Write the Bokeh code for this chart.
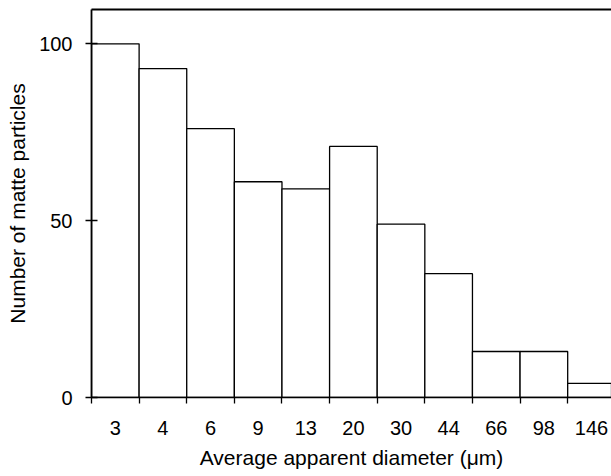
from bokeh.plotting import figure
from bokeh.models import Range1d, LinearAxis, FixedTicker
from bokeh.embed import file_html
from bokeh.resources import INLINE

categories = ["3", "4", "6", "9", "13", "20", "30", "44", "66", "98", "146"]
counts = [100, 93, 76, 61, 59, 71, 49, 35, 13, 13, 4]
y_ticks = [0, 50, 100]

n = len(categories)
centers = [i + 0.5 for i in range(n)]
edges = list(range(n + 1))

FONT = "Liberation Sans"
FS_TICK = "20px"
FS_TITLE = "21px"

p = figure(width=611, height=476, output_backend="svg", toolbar_location=None,
           x_range=Range1d(0, 10.92), y_range=Range1d(0, 109.7),
           x_axis_type=None, y_axis_type=None,
           min_border_left=91, min_border_right=0, min_border_top=9, min_border_bottom=79)
p.outline_line_color = None
p.grid.visible = False
p.background_fill_color = "white"
p.border_fill_color = "white"

p.vbar(x=centers, top=counts, bottom=0, width=1.0, fill_color="white",
       line_color="black", line_width=1.3)

# bottom axis: labels at centers, ticks (minor) at bin edges
xa = LinearAxis(ticker=FixedTicker(ticks=centers, minor_ticks=edges),
                major_label_overrides={c: lab for c, lab in zip(centers, categories)})
xa.axis_label = "Average apparent diameter (\u03bcm)"
xa.major_tick_out = 0
xa.major_tick_in = 0
xa.minor_tick_out = 6
xa.minor_tick_in = 0
xa.minor_tick_line_color = "black"
xa.minor_tick_line_width = 1.3
xa.axis_line_width = 1.5
xa.axis_line_color = "black"
xa.major_label_standoff = 17
xa.axis_label_standoff = 8
xa.major_label_text_font = FONT
xa.major_label_text_font_size = FS_TICK
xa.major_label_text_color = "black"
xa.axis_label_text_font = FONT
xa.axis_label_text_font_size = FS_TITLE
xa.axis_label_text_font_style = "normal"
xa.axis_label_text_color = "black"
p.add_layout(xa, "below")

ya = LinearAxis(ticker=FixedTicker(ticks=y_ticks, minor_ticks=[]))
ya.axis_label = "Number of matte particles"
ya.major_tick_out = 6
ya.major_tick_in = 6
ya.major_tick_line_color = "black"
ya.major_tick_line_width = 1.3
ya.axis_line_width = 1.8
ya.axis_line_color = "black"
ya.major_label_standoff = 13
ya.axis_label_standoff = 7
ya.major_label_text_font = FONT
ya.major_label_text_font_size = FS_TICK
ya.major_label_text_color = "black"
ya.axis_label_text_font = FONT
ya.axis_label_text_font_size = FS_TITLE
ya.axis_label_text_font_style = "normal"
ya.axis_label_text_color = "black"
p.add_layout(ya, "left")

top = LinearAxis(ticker=FixedTicker(ticks=[]), major_tick_out=0, major_tick_in=0,
                 minor_tick_out=0, minor_tick_in=0, major_label_standoff=0,
                 axis_line_width=1.8, axis_line_color="black")
top.major_label_text_font_size = "0px"
p.add_layout(top, "above")

open("out.html", "w").write(file_html(p, INLINE))
